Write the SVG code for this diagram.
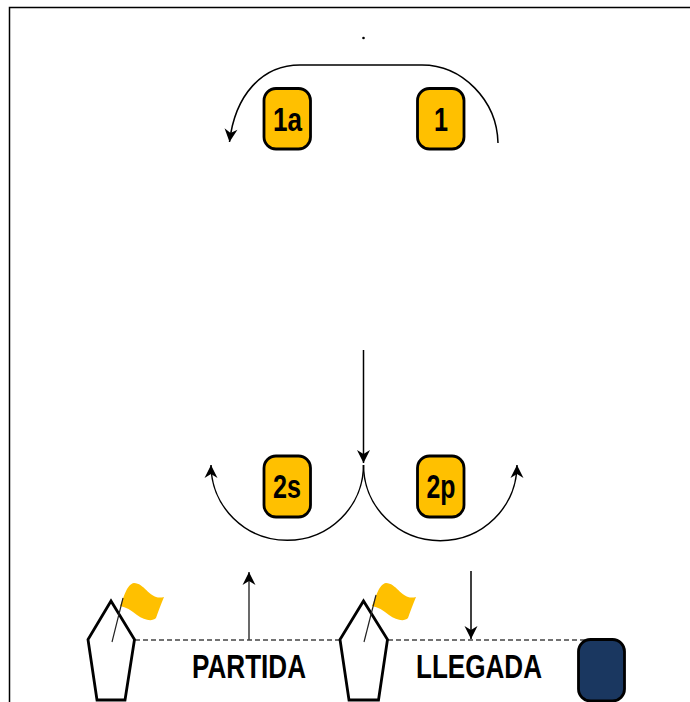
<svg xmlns="http://www.w3.org/2000/svg" width="690" height="702" viewBox="0 0 690 702">
<defs>
<marker id="a" markerUnits="userSpaceOnUse" markerWidth="18" markerHeight="18" refX="14" refY="8" orient="auto"><path d="M1 1.500 L14 8 L1 14.500 L5 8 Z" fill="#000"/></marker>
<path id="flag" d="M120 606 C124 597 127 584 134 583 C145 583 150 601 164 597 C161 604 158 612 156 618 C152 622 144 620 137 615 C131 610 126 607 120 606 Z"/>
</defs>
<style>
.bg{fill:#fff}
.n{fill:#ffc000;stroke:#000;stroke-width:2.8}
.d{fill:#1a3760;stroke:#000;stroke-width:2.8}
.t{font-family:"Liberation Sans",Arial,sans-serif;font-weight:700;font-size:33px;fill:#000;text-anchor:middle}
.c{fill:none;stroke:#000;stroke-width:1.5}
.u{fill:none;stroke:#444;stroke-width:1.6}
.dash{fill:none;stroke:#444;stroke-width:1.5;stroke-dasharray:5 3}
.b{fill:#fff;stroke:#000;stroke-width:2.8;stroke-linejoin:miter}
.p{fill:none;stroke:#222;stroke-width:1.2}
.f{fill:#ffc000}
</style>
<rect class="bg" width="690" height="702"/>
<path id="frame" d="M9.500 702 V7.500 H690" fill="none" stroke="#000" stroke-width="1.5"/>
<circle id="dot" cx="363.500" cy="38" r="1.300" fill="#000"/>
<g id="connectors">
<path class="c" d="M498 143 C497 100 462 65 422 65 H300 C262 65 235 95 229.500 142" marker-end="url(#a)"/>
<path class="c" d="M363.500 350 V463" marker-end="url(#a)"/>
<path class="c" d="M363.500 465 A76 75 0 0 1 211 465" marker-end="url(#a)"/>
<path class="c" d="M363.500 465 A76 75 0 0 0 517 465" marker-end="url(#a)"/>
<path class="u" d="M249 640 V572" marker-end="url(#a)"/>
<path class="c" d="M471 571 V639" marker-end="url(#a)"/>
<path class="dash" d="M135 640 H340"/>
<path class="dash" d="M388 640 H585"/>
</g>
<g id="node-1a"><rect class="n" x="264" y="88.500" width="46.500" height="60.500" rx="12"/><text class="t" x="287.500" y="131" textLength="29" lengthAdjust="spacingAndGlyphs">1a</text></g>
<g id="node-1"><rect class="n" x="417.500" y="88.500" width="46.500" height="60.500" rx="12"/><text class="t" x="441" y="131" textLength="14" lengthAdjust="spacingAndGlyphs">1</text></g>
<g id="node-2s"><rect class="n" x="264" y="456" width="46.500" height="61" rx="12"/><text class="t" x="287" y="498" textLength="28" lengthAdjust="spacingAndGlyphs">2s</text></g>
<g id="node-2p"><rect class="n" x="417.500" y="456" width="46.500" height="61" rx="12"/><text class="t" x="441" y="498" textLength="29" lengthAdjust="spacingAndGlyphs">2p</text></g>
<g id="boat-partida">
<path class="b" d="M97 700 L88 639.500 L111 601 L134.500 639.500 L125 700 Z"/>
<use href="#flag" class="f"/>
<path class="p" d="M112 642 L123 598"/>
</g>
<g id="boat-llegada">
<path class="b" d="M349 700 L340 639.500 L363.500 601 L387.500 639.500 L378.500 700 Z"/>
<use href="#flag" class="f" x="252"/>
<path class="p" d="M364 642 L376 595"/>
</g>
<g id="label-partida"><text class="t" x="249" y="678" textLength="114" lengthAdjust="spacingAndGlyphs">PARTIDA</text></g>
<g id="label-llegada"><text class="t" x="479" y="678" textLength="126" lengthAdjust="spacingAndGlyphs">LLEGADA</text></g>
<g id="mark-finish"><rect class="d" x="578.500" y="639.500" width="46" height="61.500" rx="12"/></g>
</svg>
